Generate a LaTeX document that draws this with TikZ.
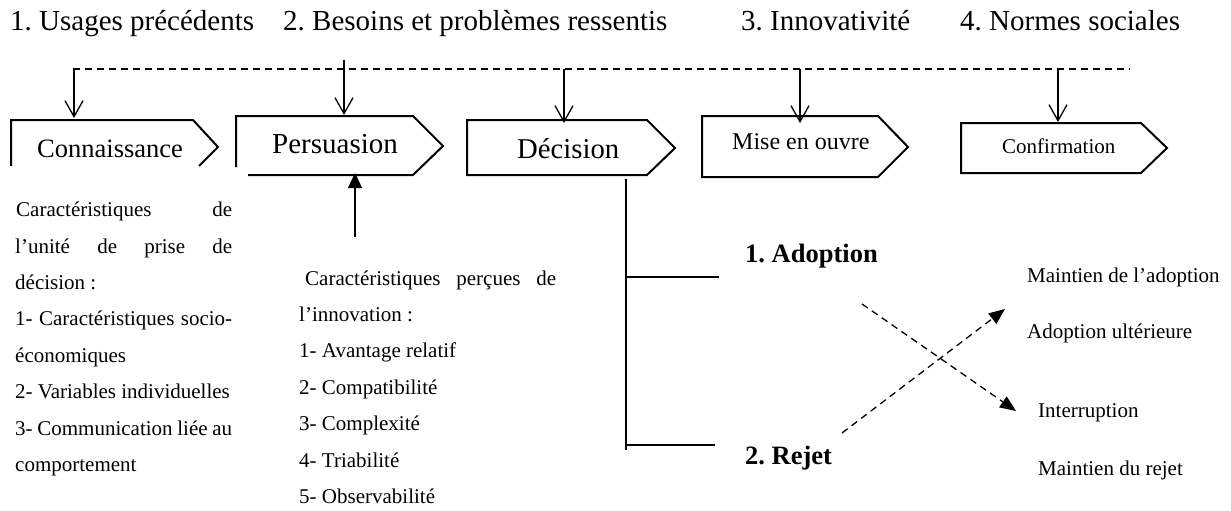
\documentclass[tikz,border=0pt]{standalone}
\usepackage{fontspec}
\setmainfont{Liberation Serif}
\usetikzlibrary{arrows.meta}
\frenchspacing
\tikzset{
  txt/.style={inner sep=0pt, anchor=base west},
  boxline/.style={line width=2pt, line join=miter},
  barbarrow/.style={line width=1.3pt, -{Straight Barb[length=16pt,width=18pt,line width=1.3pt]}},
  fillarrow/.style={line width=1.3pt, -{Triangle[length=15pt,width=14pt]}},
  dashline/.style={line width=1.3pt, dash pattern=on 7pt off 5pt},
  crossarrow/.style={line width=1.3pt, dash pattern=on 7pt off 5pt, -{Triangle[length=16pt,width=13pt]}},
  treeline/.style={line width=2.2pt},
  toplabel/.style={txt, font=\fontsize{29}{33}\selectfont},
  bodytxt/.style={txt, font=\fontsize{21}{25}\selectfont},
  righttxt/.style={txt, font=\fontsize{21}{25}\selectfont},
  boldtxt/.style={txt, font=\fontsize{26.5}{30}\selectfont\bfseries},
}
\begin{document}
\begin{tikzpicture}[x=1pt,y=-1pt]
\useasboundingbox (0,0) rectangle (1231,511);

% top labels
\node[toplabel] (u1) at (10,31) {1. Usages précédents};
\node[toplabel] (u2) at (283,31) {2. Besoins et problèmes ressentis};
\node[toplabel] (u3) at (741,31) {3. Innovativité};
\node[toplabel] (u4) at (960,31) {4. Normes sociales};

% dashed line
\coordinate (dl) at (73,69);
\coordinate (dr) at (1130,69);
\draw[dashline] (dl) -- (dr);

% boxes
\draw[boxline] (11,166) -- (11,120) -- (193,120) -- (218,147) -- (199,166);
\draw[boxline] (236,167) -- (236,116) -- (413,116) -- (443,146) -- (413,175) -- (248,175);
\draw[boxline] (467,120) -- (647,120) -- (675,148) -- (647,175) -- (467,175) -- cycle;
\draw[boxline] (702,116) -- (878,116) -- (908,147) -- (878,177) -- (702,177) -- cycle;
\draw[boxline] (961,123) -- (1141,123) -- (1167,148) -- (1141,173) -- (961,173) -- cycle;

\node[txt, font=\fontsize{26.5}{30}\selectfont] (conn) at (37,157) {Connaissance};
\node[txt, font=\fontsize{29}{33}\selectfont] (pers) at (272,153) {Persuasion};
\node[txt, font=\fontsize{28.7}{33}\selectfont] (deci) at (517,158) {Décision};
\node[txt, font=\fontsize{24}{28}\selectfont] (mise) at (732,149) {Mise en ouvre};
\node[txt, font=\fontsize{21}{25}\selectfont] (conf) at (1002,153) {Confirmation};

% arrows from dashed line
\coordinate (a1s) at (74,69);   \coordinate (a1e) at (74,118);
\coordinate (a2s) at (344,60);  \coordinate (a2e) at (344,115);
\coordinate (a3s) at (564,69);  \coordinate (a3e) at (564,123);
\coordinate (a4s) at (800,69);  \coordinate (a4e) at (800,123);
\coordinate (a5s) at (1058,69); \coordinate (a5e) at (1058,122);
\draw[barbarrow] (a1s) -- (a1e);
\draw[barbarrow] (a2s) -- (a2e);
\draw[barbarrow] (a3s) -- (a3e);
\draw[barbarrow] (a4s) -- (a4e);
\draw[barbarrow] (a5s) -- (a5e);

% upward arrow to Persuasion
\coordinate (ups) at (355,237);
\coordinate (upe) at (355,173);
\draw[fillarrow] (ups) -- (upe);

% left text block
\node[bodytxt] (l0) at (16,216.7) {\makebox[216pt][s]{Caractéristiques de}};
\node[bodytxt] (l1) at (15,253.1) {\makebox[217pt][s]{l’unité de prise de}};
\node[bodytxt] (l2) at (15,289.5) {décision :};
\node[bodytxt] (l3) at (15,325.9) {\makebox[217pt][s]{1- Caractéristiques socio-}};
\node[bodytxt] (l4) at (15,362.3) {économiques};
\node[bodytxt] (l5) at (15,398.7) {2- Variables individuelles};
\node[bodytxt] (l6) at (15,435.1) {\makebox[217pt][s]{3- Communication liée au}};
\node[bodytxt] (l7) at (15,471.5) {comportement};

% middle text block
\node[bodytxt] (m0) at (305,285) {\makebox[251pt][s]{Caractéristiques perçues de}};
\node[bodytxt] (m1) at (299,321.4) {l’innovation :};
\node[bodytxt] (m2) at (299,357.8) {1- Avantage relatif};
\node[bodytxt] (m3) at (299,394.2) {2- Compatibilité};
\node[bodytxt] (m4) at (299,430.6) {3- Complexité};
\node[bodytxt] (m5) at (299,467) {4- Triabilité};
\node[bodytxt] (m6) at (299,503.4) {5- Observabilité};

% decision tree
\coordinate (vt) at (626,179);
\coordinate (vb) at (626,450);
\coordinate (b1s) at (626,277); \coordinate (b1e) at (719,277);
\coordinate (b2s) at (626,445); \coordinate (b2e) at (715,445);
\draw[treeline] (vt) -- (vb);
\draw[treeline] (b1s) -- (b1e);
\draw[line width=2.8pt] (b2s) -- (b2e);
\node[boldtxt] (adop) at (745,262) {1. Adoption};
\node[boldtxt] (rej) at (745,464) {2. Rejet};

% dashed cross
\coordinate (xa1) at (862,304); \coordinate (xa2) at (1016,411);
\coordinate (xb1) at (842,433); \coordinate (xb2) at (1005,309);
\draw[crossarrow] (xa1) -- (xa2);
\draw[crossarrow] (xb1) -- (xb2);

% right texts
\node[righttxt] (r1) at (1027,282) {Maintien de l’adoption};
\node[righttxt] (r2) at (1027,338) {Adoption ultérieure};
\node[righttxt] (r3) at (1038,417) {Interruption};
\node[righttxt] (r4) at (1038,475) {Maintien du rejet};
\end{tikzpicture}
\end{document}
